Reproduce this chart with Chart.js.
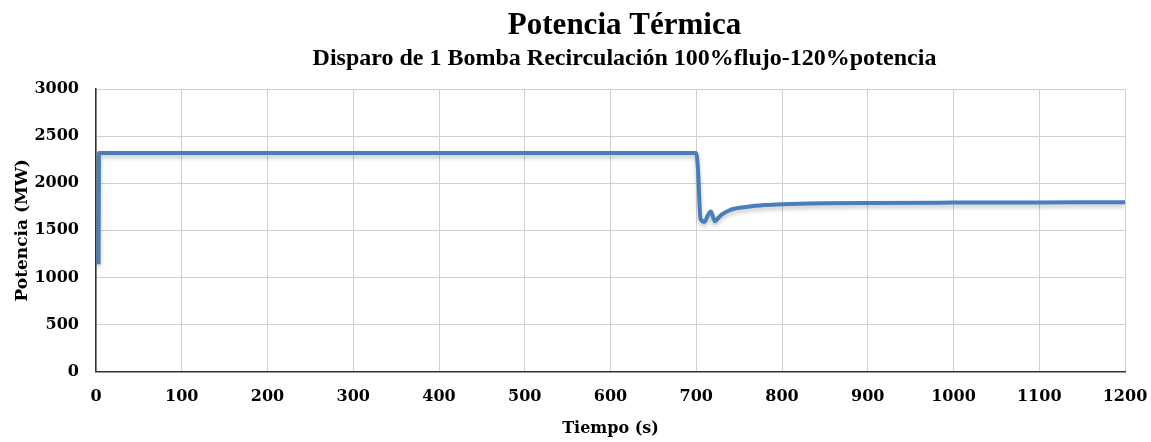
<!DOCTYPE html>
<html>
<head>
<meta charset="utf-8">
<script src="https://cdn.jsdelivr.net/npm/chart.js@4"></script>
<style>
    html, body { margin: 0; padding: 0; background: #fff; }
    #wrap { width: 1151px; height: 442px; }
</style>
</head>
<body>
<div id="wrap"><canvas id="powerChart"></canvas></div>
<script>
const timeSec = [3, 3.5, 700, 702, 705, 710, 713, 717, 720, 722, 725, 730, 740, 760, 780, 800, 850, 900, 1000, 1100, 1200];
const powerMW = [1140, 2320, 2320, 2150, 1620, 1590, 1650, 1700, 1630, 1595, 1625, 1668, 1718, 1750, 1768, 1777, 1787, 1791, 1794, 1796, 1797];
const xTicks = [0, 100, 200, 300, 400, 500, 600, 700, 800, 900, 1000, 1100, 1200];
const yTicks = [0, 500, 1000, 1500, 2000, 2500, 3000];

const titleFont = '"Liberation Serif", serif';
const axisFont = '"DejaVu Serif", serif';

// soft shadow under the line, like the original
const shadowPlugin = {
    id: 'lineShadow',
    beforeDatasetsDraw(chart) {
        const ctx = chart.ctx;
        ctx.save();
        ctx.shadowColor = 'rgba(0,0,0,0.22)';
        ctx.shadowBlur = 4;
        ctx.shadowOffsetY = 3;
    },
    afterDatasetsDraw(chart) {
        chart.ctx.restore();
    }
};

// the original headings sit a bit right of the canvas centre
const titleShift = {
    id: 'titleShift',
    afterLayout(chart) {
        chart.boxes.forEach(box => {
            if (!box.axis && box.options && typeof box.options.text === 'string') {
                box.left += 58;
                box.right += 58;
            }
        });
    }
};

new Chart(document.getElementById('powerChart'), {
    type: 'line',
    data: {
        datasets: [{
            label: 'Potencia',
            data: timeSec.map((t, i) => ({x: t, y: powerMW[i]})),
            borderColor: '#4a7ebb',
            borderWidth: 4,
            pointRadius: 0,
            cubicInterpolationMode: 'monotone'
        }]
    },
    options: {
        responsive: true,
        maintainAspectRatio: false,
        animation: false,
        layout: { padding: { left: 8, right: 26, top: 0, bottom: 0 } },
        plugins: {
            legend: { display: false },
            tooltip: { enabled: false },
            title: {
                display: true,
                text: 'Potencia Térmica',
                color: '#000',
                font: { family: titleFont, size: 31, weight: 'bold' },
                padding: { top: 7, bottom: 0 }
            },
            subtitle: {
                display: true,
                text: 'Disparo de 1 Bomba Recirculación 100%flujo-120%potencia',
                color: '#000',
                font: { family: titleFont, size: 24, weight: 'bold' },
                padding: { top: 0, bottom: 16 }
            }
        },
        scales: {
            x: {
                type: 'linear',
                min: 0,
                max: 1200,
                afterBuildTicks: axis => { axis.ticks = xTicks.map(v => ({value: v})); },
                afterFit: axis => { axis.paddingLeft = 0; axis.paddingRight = 0; },
                ticks: {
                    color: '#000',
                    font: { family: axisFont, size: 16, weight: 'bold' },
                    padding: 16,
                    maxRotation: 0,
                    callback: v => String(v)
                },
                grid: { color: '#d0d0d0', drawTicks: false },
                border: { color: '#333', width: 1.5 },
                title: { display: true, text: 'Tiempo (s)', color: '#000', font: { family: axisFont, size: 16, weight: 'bold' }, padding: { top: -4, bottom: 4 } }
            },
            y: {
                min: 0,
                max: 3000,
                afterBuildTicks: axis => { axis.ticks = yTicks.map(v => ({value: v})); },
                afterFit: axis => { axis.width = 88; axis.paddingTop = 0; axis.paddingBottom = 0; },
                ticks: {
                    color: '#000',
                    font: { family: axisFont, size: 16, weight: 'bold' },
                    padding: 17,
                    callback: v => String(v)
                },
                grid: { color: '#d0d0d0', drawTicks: false },
                border: { color: '#333', width: 1.5 },
                title: { display: true, text: 'Potencia (MW)', color: '#000', font: { family: axisFont, size: 17, weight: 'bold' }, padding: { bottom: 2 } }
            }
        }
    },
    plugins: [shadowPlugin, titleShift]
});
</script>
</body>
</html>
